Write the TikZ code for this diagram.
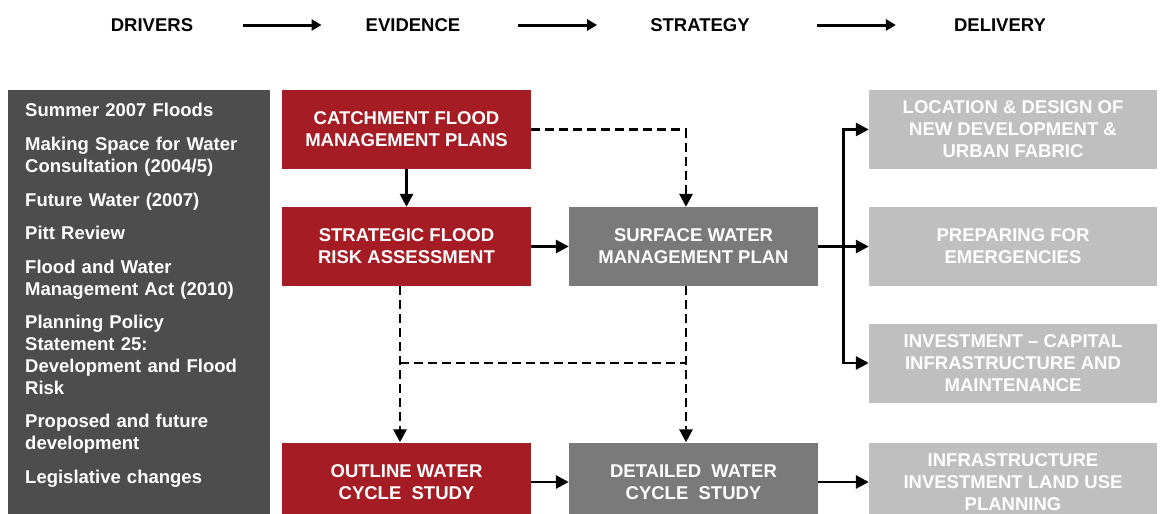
\documentclass[tikz,border=0pt]{standalone}
\usepackage{fontspec}
\setmainfont{Liberation Sans}
\usetikzlibrary{arrows.meta}
\usetikzlibrary{calc}
\usetikzlibrary{positioning}

\definecolor{panelgrey}{RGB}{77,77,77}
\definecolor{floodred}{RGB}{166,28,36}
\definecolor{plangrey}{RGB}{122,122,122}
\definecolor{palegrey}{RGB}{191,191,191}

\begin{document}
\begin{tikzpicture}
	[x=1pt, y=-1pt,
	> = {Triangle[length=13pt,width=13pt]},
	every node/.style={font=\fontsize{18.5}{22}\selectfont\bfseries},
	header/.style = {inner sep=0pt, text=black},
	hdrarrow/.style = {line width=3pt, -{Triangle[length=10pt,width=11pt]}},
	box/.style = {minimum width=249pt, minimum height=79pt, inner sep=0pt, align=center, text=white},
	redbox/.style = {box, fill=floodred},
	greybox/.style = {box, fill=plangrey},
	palebox/.style = {box, fill=palegrey, minimum width=288pt},
	driver/.style = {anchor=base west, text width=240pt, align=left, inner sep=0pt, text=white},
	link/.style = {line width=2.8pt, ->},
	dashlink/.style = {link, dash pattern=on 9pt off 5pt}
	]
	\useasboundingbox (0,0) rectangle (1162,514);
	\clip (0,0) rectangle (1162,514);

	% header row
	\node[header] (drivers) at (152,25) {DRIVERS};
	\node[header] (evidence) at (413,25) {EVIDENCE};
	\node[header] (strategy) at (700,25) {STRATEGY};
	\node[header] (delivery) at (1000,25) {DELIVERY};
	\draw[hdrarrow, shorten <=50pt, shorten >=44pt] (drivers) -- (evidence);
	\draw[hdrarrow, shorten <=58pt, shorten >=53pt] (evidence) -- (strategy);
	\draw[hdrarrow, shorten <=67pt, shorten >=58pt] (strategy) -- (delivery);

	% drivers panel
	\node[fill=panelgrey, minimum width=262pt, minimum height=430pt, inner sep=0pt, anchor=north west] (panel) at (8,90) {};
	\foreach \y/\txt [count=\i] in {109/{Summer 2007 Floods},
		143/{Making Space for Water\\Consultation (2004/5)},
		199/{Future Water (2007)},
		232/{Pitt Review},
		266/{Flood and Water\\Management Act (2010)},
		321/{Planning Policy\\Statement 25:\\Development and Flood\\Risk},
		420/{Proposed and future\\development},
		476/{Legislative changes}}
		\node[driver] (driver\i) at (25,\y+7) {\txt};

	% evidence and strategy
	\node[redbox] (cfmp) at (406.5,129.5) {CATCHMENT FLOOD\\MANAGEMENT PLANS};
	\node[redbox] (sfra) at (406.5,246.5) {STRATEGIC FLOOD\\RISK ASSESSMENT};
	\node[redbox] (owcs) at (406.5,482) {OUTLINE WATER\\CYCLE~ STUDY};
	\node[greybox] (swmp) at (693.5,246.5) {SURFACE WATER\\MANAGEMENT PLAN};
	\node[greybox] (dwcs) at (693.5,482) {DETAILED~ WATER\\CYCLE~ STUDY};

	% delivery
	\node[palebox] (design) at (1013,129.5) {LOCATION \& DESIGN OF\\NEW DEVELOPMENT \&\\URBAN FABRIC};
	\node[palebox] (prep) at (1013,246.5) {PREPARING FOR\\EMERGENCIES};
	\node[palebox] (invest) at (1013,363) {INVESTMENT -- CAPITAL\\INFRASTRUCTURE AND\\MAINTENANCE};
	\node[palebox] (landuse) at (1013,482) {INFRASTRUCTURE\\INVESTMENT LAND USE\\PLANNING};

	% solid links
	\draw[link] (cfmp) -- (sfra);
	\draw[link] (sfra) -- (swmp);
	\draw[link] (swmp) -- (prep);
	\draw[link] (owcs) -- (dwcs);
	\draw[link] (dwcs) -- (landuse);
	\coordinate (fork) at ($(swmp.east)!0.5!(prep.west)$);
	\draw[link] (fork) |- (design.west);
	\draw[link] (fork) |- (invest.west);

	% dashed links
	\coordinate (jl) at (400,363);
	\coordinate (jr) at (686,363);
	\draw[dashlink] (cfmp) -| ([xshift=-7.5pt]swmp.north);
	\draw[dashlink] ([xshift=-6.5pt]sfra.south) -- ([xshift=-6.5pt]owcs.north);
	\draw[dashlink] ([xshift=-7.5pt]swmp.south) -- ([xshift=-7.5pt]dwcs.north);
	\draw[dashlink, -] (jl) -- (jr);
\end{tikzpicture}
\end{document}
